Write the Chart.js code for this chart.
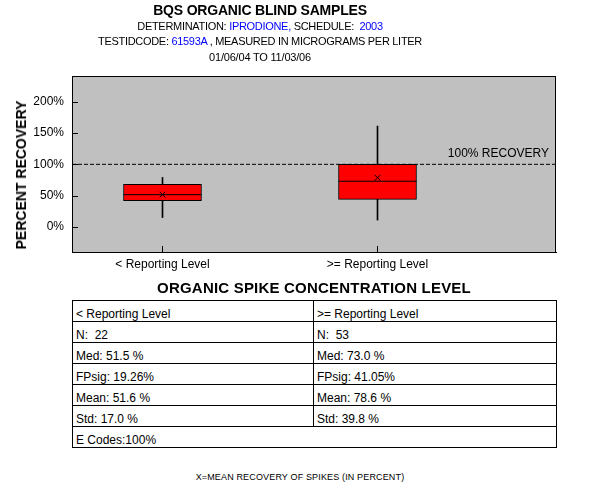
<!DOCTYPE html>
<html>
<head>
<meta charset="utf-8">
<script src="https://cdn.jsdelivr.net/npm/chart.js@4.4.1/dist/chart.umd.min.js"></script>
<style>
   body { margin: 0; background: #fff; font-family: Arial, "Liberation Sans", sans-serif; }
   #wrap { position: relative; width: 600px; height: 500px; overflow: hidden; }
   #plot { position: absolute; left: 0; top: 0; }
   .t { position: absolute; left: 0; width: 520px; text-align: center; white-space: pre; color: #000; }
   .blue { color: #0000ff; }
   #t1 { top: 2px; font-size: 14px; font-weight: bold; letter-spacing: -0.2px; }
   #t2 { top: 20px; font-size: 11px; letter-spacing: -0.3px; }
   #t3 { top: 35px; font-size: 11px; letter-spacing: -0.3px; }
   #t4 { top: 51px; font-size: 11px; letter-spacing: -0.2px; }
   #ytitle { position: absolute; left: 21px; top: 175px; transform: translate(-50%, -50%) rotate(-90deg);
      font-size: 14px; font-weight: bold; white-space: nowrap; }
   #xtitle { position: absolute; left: 0; width: 628px; top: 279px; text-align: center; font-size: 15px; font-weight: bold; letter-spacing: 0.2px; }
   #stats { position: absolute; left: 72px; top: 300px; border-collapse: collapse; width: 485px; font-size: 12px; }
   #stats td { border: 1px solid #000; height: 13px; padding: 7px 0 0 3px; line-height: 13px; vertical-align: top; white-space: pre; }
   #foot { position: absolute; left: 0; width: 600px; top: 472px; text-align: center; font-size: 9px; letter-spacing: 0.15px; }
</style>
</head>
<body>
<div id="wrap">
   <canvas id="plot" width="600" height="300"></canvas>
   <div class="t" id="t1">BQS ORGANIC BLIND SAMPLES</div>
   <div class="t" id="t2">DETERMINATION: <span class="blue">IPRODIONE,</span> SCHEDULE:  <span class="blue">2003</span></div>
   <div class="t" id="t3">TESTIDCODE: <span class="blue">61593A</span> , MEASURED IN MICROGRAMS PER LITER</div>
   <div class="t" id="t4">01/06/04 TO 11/03/06</div>
   <div id="ytitle">PERCENT RECOVERY</div>
   <div id="xtitle">ORGANIC SPIKE CONCENTRATION LEVEL</div>
   <table id="stats"></table>
   <div id="foot">X=MEAN RECOVERY OF SPIKES (IN PERCENT)</div>
</div>
<script>
// данные ящиков (в процентах)
const categories = ['< Reporting Level', '>= Reporting Level'];
const positions = [1, 2];
const whiskerLow = [15, 11];
const q1 = [42, 44];
const median = [51.5, 73.0];
const q3 = [68, 100];
const whiskerHigh = [79, 161];
const mean = [51.6, 78.6];
const yTicks = [0, 50, 100, 150, 200];
const recoveryLine = 100;

// таблица под графиком
const statN = ['22', '53'];
const statMed = ['51.5 %', '73.0 %'];
const statFPsig = ['19.26%', '41.05%'];
const statMean = ['51.6 %', '78.6 %'];
const statStd = ['17.0 %', '39.8 %'];
const eCodes = '100%';

const xMin = 0.5791, xMax = 2.8302, yMin = -40, yMax = 241;

// таблица
const rows = [
   categories,
   statN.map(v => 'N:  ' + v),
   statMed.map(v => 'Med: ' + v),
   statFPsig.map(v => 'FPsig: ' + v),
   statMean.map(v => 'Mean: ' + v),
   statStd.map(v => 'Std: ' + v)
];
const table = document.getElementById('stats');
rows.forEach(r => {
   const tr = document.createElement('tr');
   r.forEach((txt, i) => {
      const td = document.createElement('td');
      td.textContent = txt;
      if (i === 0) td.style.width = '237px';
      tr.appendChild(td);
   });
   table.appendChild(tr);
});
const last = document.createElement('tr');
last.innerHTML = '<td colspan="2"></td>';
last.firstChild.textContent = 'E Codes:' + eCodes;
table.appendChild(last);

// серый фон, рамка, засечки внутрь и подпись 100%
const areaPlugin = {
   id: 'area',
   beforeDraw(chart) {
      const { ctx, chartArea: a } = chart;
      ctx.save();
      ctx.fillStyle = '#c0c0c0';
      ctx.fillRect(a.left, a.top, a.right - a.left, a.bottom - a.top);
      ctx.restore();
   },
   afterDraw(chart) {
      const { ctx, chartArea: a, scales } = chart;
      ctx.save();
      ctx.strokeStyle = '#000';
      ctx.lineWidth = 1;
      ctx.strokeRect(a.left + 0.5, a.top + 0.5, a.right - a.left - 1, a.bottom - a.top);
      ctx.beginPath();
      yTicks.forEach(v => {
         const y = Math.round(scales.y.getPixelForValue(v)) + 0.5;
         ctx.moveTo(a.left, y);
         ctx.lineTo(a.left + 6, y);
      });
      positions.forEach(v => {
         const x = Math.floor(scales.x.getPixelForValue(v)) + 0.5;
         ctx.moveTo(x, a.bottom);
         ctx.lineTo(x, a.bottom - 6);
      });
      ctx.stroke();
      ctx.fillStyle = '#000';
      ctx.font = '12px Arial, "Liberation Sans", sans-serif';
      ctx.textAlign = 'right';
      ctx.textBaseline = 'bottom';
      ctx.fillText('100% RECOVERY', a.right - 7, scales.y.getPixelForValue(recoveryLine) - 5);
      ctx.restore();
   }
};

const pts = arr => arr.map((v, i) => ({ x: positions[i], y: v }));

new Chart(document.getElementById('plot'), {
   type: 'bar',
   data: {
      datasets: [
         // среднее (крестик)
         {
            type: 'line',
            data: pts(mean),
            showLine: false,
            pointStyle: 'crossRot',
            pointRadius: 4,
            borderColor: '#000',
            borderWidth: 1,
            order: 0
         },
         // медиана
         {
            type: 'line',
            data: pts(median),
            showLine: false,
            pointStyle: 'line',
            pointRadius: 39,
            borderColor: '#000',
            borderWidth: 1,
            order: 1
         },
         // ящик
         {
            data: positions.map((p, i) => ({ x: p, y: [q1[i], q3[i]] })),
            backgroundColor: '#ff0000',
            borderColor: '#000',
            borderWidth: 1,
            borderSkipped: false,
            barThickness: 78,
            grouped: false,
            order: 2
         },
         // усы
         {
            data: positions.map((p, i) => ({ x: p, y: [whiskerLow[i], whiskerHigh[i]] })),
            backgroundColor: '#000',
            borderWidth: 0,
            barThickness: 1,
            grouped: false,
            order: 3
         },
         // линия 100%
         {
            type: 'line',
            data: [{ x: xMin, y: recoveryLine }, { x: xMax, y: recoveryLine }],
            borderColor: '#000',
            borderWidth: 1,
            borderDash: [4, 2],
            pointRadius: 0,
            order: 4
         }
      ]
   },
   options: {
      responsive: false,
      animation: false,
      layout: { padding: { left: 0, top: 76, right: 44, bottom: 0 } },
      plugins: { legend: { display: false }, tooltip: { enabled: false } },
      scales: {
         x: {
            type: 'linear',
            min: xMin,
            max: xMax,
            offset: false,
            afterFit: s => { s.height = 48; },
            afterBuildTicks: s => { s.ticks = positions.map(v => ({ value: v })); },
            grid: { display: false, drawTicks: false },
            border: { color: '#000' },
            ticks: {
               padding: 5,
               color: '#000',
               font: { family: 'Arial, "Liberation Sans", sans-serif', size: 12 },
               callback: v => categories[positions.indexOf(v)]
            }
         },
         y: {
            min: yMin,
            max: yMax,
            afterFit: s => { s.width = 72; },
            afterBuildTicks: s => { s.ticks = yTicks.map(v => ({ value: v })); },
            grid: { display: false, drawTicks: false },
            border: { color: '#000' },
            ticks: {
               padding: 8,
               color: '#000',
               font: { family: 'Arial, "Liberation Sans", sans-serif', size: 12 },
               callback: v => v + '%'
            }
         }
      }
   },
   plugins: [areaPlugin]
});
</script>
</body>
</html>
